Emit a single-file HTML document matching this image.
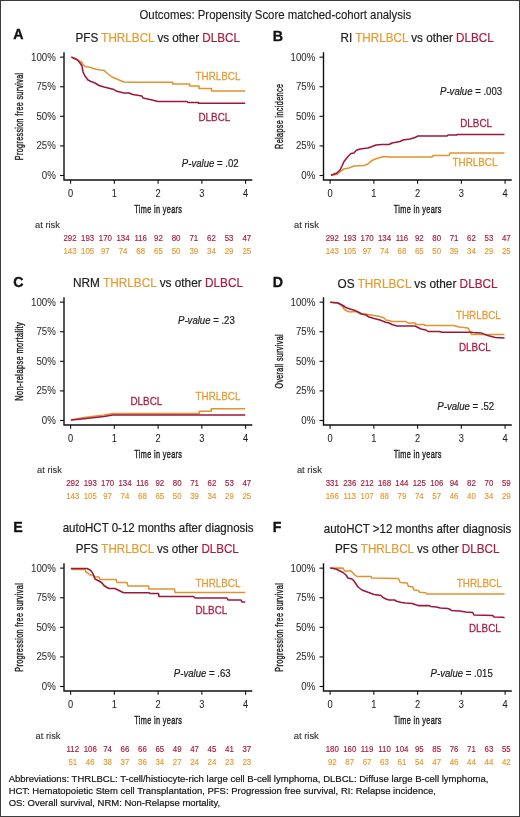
<!DOCTYPE html>
<html><head><meta charset="utf-8"><style>
html,body{margin:0;padding:0;background:#fff;width:520px;height:817px;overflow:hidden}
svg{display:block;font-family:"Liberation Sans", sans-serif;will-change:transform}
</style></head><body>
<svg width="520" height="817" viewBox="0 0 520 817">
<rect x="0.5" y="0.5" width="519" height="816" fill="#fff" stroke="#3c3c3c" stroke-width="1"/>
<text x="139.50" y="18.70" font-size="12.1" fill="#1e1e1e" stroke="#1e1e1e" stroke-width="0.15" textLength="271.75" lengthAdjust="spacingAndGlyphs">Outcomes: Propensity Score matched-cohort analysis</text>
<text transform="translate(13.30 39.30) scale(0.95 1)" font-size="15.0" fill="#111" font-weight="bold" stroke="#111" stroke-width="0.35">A</text>
<text x="75.50" y="41.80" font-size="12.2" fill="#1e1e1e" textLength="164.5" lengthAdjust="spacingAndGlyphs"><tspan fill="#1e1e1e" stroke="#1e1e1e" stroke-width="0.2">PFS </tspan><tspan fill="#E49C32" stroke="#E49C32" stroke-width="0.2">THRLBCL</tspan><tspan fill="#1e1e1e" stroke="#1e1e1e" stroke-width="0.2"> vs other </tspan><tspan fill="#A81C40" stroke="#A81C40" stroke-width="0.2">DLBCL</tspan></text>
<path d="M64.0 52.25 V180.0 H252.3" fill="none" stroke="#111111" stroke-width="1.4"/>
<path d="M60 57.15 H64.0" stroke="#111111" stroke-width="1.1"/>
<text transform="translate(55.80 60.65) scale(0.95 1)" font-size="10.2" fill="#2e2e2e" text-anchor="end" stroke="#2e2e2e" stroke-width="0.06">100%</text>
<path d="M60 86.74 H64.0" stroke="#111111" stroke-width="1.1"/>
<text transform="translate(55.80 90.24) scale(0.95 1)" font-size="10.2" fill="#2e2e2e" text-anchor="end" stroke="#2e2e2e" stroke-width="0.06">75%</text>
<path d="M60 116.32 H64.0" stroke="#111111" stroke-width="1.1"/>
<text transform="translate(55.80 119.82) scale(0.95 1)" font-size="10.2" fill="#2e2e2e" text-anchor="end" stroke="#2e2e2e" stroke-width="0.06">50%</text>
<path d="M60 145.91 H64.0" stroke="#111111" stroke-width="1.1"/>
<text transform="translate(55.80 149.41) scale(0.95 1)" font-size="10.2" fill="#2e2e2e" text-anchor="end" stroke="#2e2e2e" stroke-width="0.06">25%</text>
<path d="M60 175.50 H64.0" stroke="#111111" stroke-width="1.1"/>
<text transform="translate(55.80 179.00) scale(0.95 1)" font-size="10.2" fill="#2e2e2e" text-anchor="end" stroke="#2e2e2e" stroke-width="0.06">0%</text>
<path d="M70.60 180.0 V183.75" stroke="#111111" stroke-width="1.1"/>
<text transform="translate(70.60 196.50) scale(0.93 1)" font-size="10.0" fill="#222" text-anchor="middle" stroke="#222" stroke-width="0.06">0</text>
<path d="M114.35 180.0 V183.75" stroke="#111111" stroke-width="1.1"/>
<text transform="translate(114.35 196.50) scale(0.93 1)" font-size="10.0" fill="#222" text-anchor="middle" stroke="#222" stroke-width="0.06">1</text>
<path d="M158.10 180.0 V183.75" stroke="#111111" stroke-width="1.1"/>
<text transform="translate(158.10 196.50) scale(0.93 1)" font-size="10.0" fill="#222" text-anchor="middle" stroke="#222" stroke-width="0.06">2</text>
<path d="M201.85 180.0 V183.75" stroke="#111111" stroke-width="1.1"/>
<text transform="translate(201.85 196.50) scale(0.93 1)" font-size="10.0" fill="#222" text-anchor="middle" stroke="#222" stroke-width="0.06">3</text>
<path d="M245.60 180.0 V183.75" stroke="#111111" stroke-width="1.1"/>
<text transform="translate(245.60 196.50) scale(0.93 1)" font-size="10.0" fill="#222" text-anchor="middle" stroke="#222" stroke-width="0.06">4</text>
<text letter-spacing="0.55" transform="translate(158.30 212.50) scale(0.635 1)" font-size="11.5" fill="#1e1e1e" text-anchor="middle" stroke="#1e1e1e" stroke-width="0.42">Time in years</text>
<text transform="translate(23.20 116.30) rotate(-90)" font-size="11.3" fill="#1e1e1e" stroke="#1e1e1e" stroke-width="0.4" letter-spacing="0.6" text-anchor="middle" textLength="87.7" lengthAdjust="spacingAndGlyphs">Progression free survival</text>
<text transform="translate(35.00 227.80) scale(0.95 1)" font-size="9.85" fill="#333" stroke="#333" stroke-width="0.12">at risk</text>
<text transform="translate(70.00 241.20) scale(0.95 1)" font-size="8.3" fill="#A81C40" text-anchor="middle" stroke="#A81C40" stroke-width="0.16">292</text>
<text transform="translate(70.00 253.70) scale(0.95 1)" font-size="8.3" fill="#E49C32" text-anchor="middle" stroke="#E49C32" stroke-width="0.16">143</text>
<text transform="translate(87.68 241.20) scale(0.95 1)" font-size="8.3" fill="#A81C40" text-anchor="middle" stroke="#A81C40" stroke-width="0.16">193</text>
<text transform="translate(87.68 253.70) scale(0.95 1)" font-size="8.3" fill="#E49C32" text-anchor="middle" stroke="#E49C32" stroke-width="0.16">105</text>
<text transform="translate(105.36 241.20) scale(0.95 1)" font-size="8.3" fill="#A81C40" text-anchor="middle" stroke="#A81C40" stroke-width="0.16">170</text>
<text transform="translate(105.36 253.70) scale(0.95 1)" font-size="8.3" fill="#E49C32" text-anchor="middle" stroke="#E49C32" stroke-width="0.16">97</text>
<text transform="translate(123.04 241.20) scale(0.95 1)" font-size="8.3" fill="#A81C40" text-anchor="middle" stroke="#A81C40" stroke-width="0.16">134</text>
<text transform="translate(123.04 253.70) scale(0.95 1)" font-size="8.3" fill="#E49C32" text-anchor="middle" stroke="#E49C32" stroke-width="0.16">74</text>
<text transform="translate(140.72 241.20) scale(0.95 1)" font-size="8.3" fill="#A81C40" text-anchor="middle" stroke="#A81C40" stroke-width="0.16">116</text>
<text transform="translate(140.72 253.70) scale(0.95 1)" font-size="8.3" fill="#E49C32" text-anchor="middle" stroke="#E49C32" stroke-width="0.16">68</text>
<text transform="translate(158.40 241.20) scale(0.95 1)" font-size="8.3" fill="#A81C40" text-anchor="middle" stroke="#A81C40" stroke-width="0.16">92</text>
<text transform="translate(158.40 253.70) scale(0.95 1)" font-size="8.3" fill="#E49C32" text-anchor="middle" stroke="#E49C32" stroke-width="0.16">65</text>
<text transform="translate(176.08 241.20) scale(0.95 1)" font-size="8.3" fill="#A81C40" text-anchor="middle" stroke="#A81C40" stroke-width="0.16">80</text>
<text transform="translate(176.08 253.70) scale(0.95 1)" font-size="8.3" fill="#E49C32" text-anchor="middle" stroke="#E49C32" stroke-width="0.16">50</text>
<text transform="translate(193.76 241.20) scale(0.95 1)" font-size="8.3" fill="#A81C40" text-anchor="middle" stroke="#A81C40" stroke-width="0.16">71</text>
<text transform="translate(193.76 253.70) scale(0.95 1)" font-size="8.3" fill="#E49C32" text-anchor="middle" stroke="#E49C32" stroke-width="0.16">39</text>
<text transform="translate(211.44 241.20) scale(0.95 1)" font-size="8.3" fill="#A81C40" text-anchor="middle" stroke="#A81C40" stroke-width="0.16">62</text>
<text transform="translate(211.44 253.70) scale(0.95 1)" font-size="8.3" fill="#E49C32" text-anchor="middle" stroke="#E49C32" stroke-width="0.16">34</text>
<text transform="translate(229.12 241.20) scale(0.95 1)" font-size="8.3" fill="#A81C40" text-anchor="middle" stroke="#A81C40" stroke-width="0.16">53</text>
<text transform="translate(229.12 253.70) scale(0.95 1)" font-size="8.3" fill="#E49C32" text-anchor="middle" stroke="#E49C32" stroke-width="0.16">29</text>
<text transform="translate(246.80 241.20) scale(0.95 1)" font-size="8.3" fill="#A81C40" text-anchor="middle" stroke="#A81C40" stroke-width="0.16">47</text>
<text transform="translate(246.80 253.70) scale(0.95 1)" font-size="8.3" fill="#E49C32" text-anchor="middle" stroke="#E49C32" stroke-width="0.16">25</text>
<path d="M71.30 57.10 L76.00 58.50 L79.00 61.00 L81.50 62.00 L83.00 64.50 L85.00 66.50 L91.00 67.50 L93.00 68.50 L100.00 70.00 L104.00 70.30 L108.00 74.00 L112.00 77.00 L118.00 79.50 L124.00 82.00 L129.00 82.25 L172.75 82.25 L172.75 83.90 L189.60 83.90 L189.60 86.00 L199.00 86.00 L199.00 88.50 L211.50 88.50 L211.50 91.00 L245.25 91.00" fill="none" stroke="#E0942E" stroke-width="1.55" stroke-linejoin="round"/>
<path d="M71.30 57.10 L77.50 60.00 L80.00 63.00 L82.00 66.00 L83.00 72.00 L85.00 76.00 L88.00 80.00 L91.00 81.50 L95.00 83.00 L99.00 85.50 L104.00 87.00 L114.00 89.50 L116.00 91.00 L124.00 93.00 L129.00 93.00 L132.75 94.50 L142.00 96.00 L143.00 98.00 L150.00 99.50 L158.00 101.50 L187.00 101.50 L188.00 102.50 L198.40 102.50 L198.40 103.25 L245.25 103.25" fill="none" stroke="#9C173C" stroke-width="1.55" stroke-linejoin="round"/>
<text transform="translate(195.50 79.50) scale(0.95 1)" font-size="10.4" fill="#E49C32" stroke="#E49C32" stroke-width="0.25">THRLBCL</text>
<text transform="translate(198.50 121.20) scale(0.95 1)" font-size="10.4" fill="#A81C40" stroke="#A81C40" stroke-width="0.25">DLBCL</text>
<text transform="translate(181.80 166.50) scale(0.95 1)" font-size="10.1" fill="#1e1e1e" stroke="#1e1e1e" stroke-width="0.2"><tspan font-style="italic">P-value</tspan> = .02</text>
<text transform="translate(272.80 41.00) scale(0.95 1)" font-size="15.0" fill="#111" font-weight="bold" stroke="#111" stroke-width="0.35">B</text>
<text x="340.50" y="42.00" font-size="12.2" fill="#1e1e1e" textLength="153.25" lengthAdjust="spacingAndGlyphs"><tspan fill="#1e1e1e" stroke="#1e1e1e" stroke-width="0.2">RI </tspan><tspan fill="#E49C32" stroke="#E49C32" stroke-width="0.2">THRLBCL</tspan><tspan fill="#1e1e1e" stroke="#1e1e1e" stroke-width="0.2"> vs other </tspan><tspan fill="#A81C40" stroke="#A81C40" stroke-width="0.2">DLBCL</tspan></text>
<path d="M323.5 52.25 V180.0 H511.8" fill="none" stroke="#111111" stroke-width="1.4"/>
<path d="M319.5 57.15 H323.5" stroke="#111111" stroke-width="1.1"/>
<text transform="translate(315.30 60.65) scale(0.95 1)" font-size="10.2" fill="#2e2e2e" text-anchor="end" stroke="#2e2e2e" stroke-width="0.06">100%</text>
<path d="M319.5 86.74 H323.5" stroke="#111111" stroke-width="1.1"/>
<text transform="translate(315.30 90.24) scale(0.95 1)" font-size="10.2" fill="#2e2e2e" text-anchor="end" stroke="#2e2e2e" stroke-width="0.06">75%</text>
<path d="M319.5 116.32 H323.5" stroke="#111111" stroke-width="1.1"/>
<text transform="translate(315.30 119.82) scale(0.95 1)" font-size="10.2" fill="#2e2e2e" text-anchor="end" stroke="#2e2e2e" stroke-width="0.06">50%</text>
<path d="M319.5 145.91 H323.5" stroke="#111111" stroke-width="1.1"/>
<text transform="translate(315.30 149.41) scale(0.95 1)" font-size="10.2" fill="#2e2e2e" text-anchor="end" stroke="#2e2e2e" stroke-width="0.06">25%</text>
<path d="M319.5 175.50 H323.5" stroke="#111111" stroke-width="1.1"/>
<text transform="translate(315.30 179.00) scale(0.95 1)" font-size="10.2" fill="#2e2e2e" text-anchor="end" stroke="#2e2e2e" stroke-width="0.06">0%</text>
<path d="M330.10 180.0 V183.75" stroke="#111111" stroke-width="1.1"/>
<text transform="translate(330.10 196.50) scale(0.93 1)" font-size="10.0" fill="#222" text-anchor="middle" stroke="#222" stroke-width="0.06">0</text>
<path d="M373.85 180.0 V183.75" stroke="#111111" stroke-width="1.1"/>
<text transform="translate(373.85 196.50) scale(0.93 1)" font-size="10.0" fill="#222" text-anchor="middle" stroke="#222" stroke-width="0.06">1</text>
<path d="M417.60 180.0 V183.75" stroke="#111111" stroke-width="1.1"/>
<text transform="translate(417.60 196.50) scale(0.93 1)" font-size="10.0" fill="#222" text-anchor="middle" stroke="#222" stroke-width="0.06">2</text>
<path d="M461.35 180.0 V183.75" stroke="#111111" stroke-width="1.1"/>
<text transform="translate(461.35 196.50) scale(0.93 1)" font-size="10.0" fill="#222" text-anchor="middle" stroke="#222" stroke-width="0.06">3</text>
<path d="M505.10 180.0 V183.75" stroke="#111111" stroke-width="1.1"/>
<text transform="translate(505.10 196.50) scale(0.93 1)" font-size="10.0" fill="#222" text-anchor="middle" stroke="#222" stroke-width="0.06">4</text>
<text letter-spacing="0.55" transform="translate(417.80 212.50) scale(0.635 1)" font-size="11.5" fill="#1e1e1e" text-anchor="middle" stroke="#1e1e1e" stroke-width="0.42">Time in years</text>
<text transform="translate(282.70 116.30) rotate(-90)" font-size="11.3" fill="#1e1e1e" stroke="#1e1e1e" stroke-width="0.4" letter-spacing="0.6" text-anchor="middle" textLength="65.2" lengthAdjust="spacingAndGlyphs">Relapse incidence</text>
<text transform="translate(294.00 227.80) scale(0.95 1)" font-size="9.85" fill="#333" stroke="#333" stroke-width="0.12">at risk</text>
<text transform="translate(332.30 241.20) scale(0.95 1)" font-size="8.3" fill="#A81C40" text-anchor="middle" stroke="#A81C40" stroke-width="0.16">292</text>
<text transform="translate(332.30 253.70) scale(0.95 1)" font-size="8.3" fill="#E49C32" text-anchor="middle" stroke="#E49C32" stroke-width="0.16">143</text>
<text transform="translate(349.70 241.20) scale(0.95 1)" font-size="8.3" fill="#A81C40" text-anchor="middle" stroke="#A81C40" stroke-width="0.16">193</text>
<text transform="translate(349.70 253.70) scale(0.95 1)" font-size="8.3" fill="#E49C32" text-anchor="middle" stroke="#E49C32" stroke-width="0.16">105</text>
<text transform="translate(367.10 241.20) scale(0.95 1)" font-size="8.3" fill="#A81C40" text-anchor="middle" stroke="#A81C40" stroke-width="0.16">170</text>
<text transform="translate(367.10 253.70) scale(0.95 1)" font-size="8.3" fill="#E49C32" text-anchor="middle" stroke="#E49C32" stroke-width="0.16">97</text>
<text transform="translate(384.50 241.20) scale(0.95 1)" font-size="8.3" fill="#A81C40" text-anchor="middle" stroke="#A81C40" stroke-width="0.16">134</text>
<text transform="translate(384.50 253.70) scale(0.95 1)" font-size="8.3" fill="#E49C32" text-anchor="middle" stroke="#E49C32" stroke-width="0.16">74</text>
<text transform="translate(401.90 241.20) scale(0.95 1)" font-size="8.3" fill="#A81C40" text-anchor="middle" stroke="#A81C40" stroke-width="0.16">116</text>
<text transform="translate(401.90 253.70) scale(0.95 1)" font-size="8.3" fill="#E49C32" text-anchor="middle" stroke="#E49C32" stroke-width="0.16">68</text>
<text transform="translate(419.30 241.20) scale(0.95 1)" font-size="8.3" fill="#A81C40" text-anchor="middle" stroke="#A81C40" stroke-width="0.16">92</text>
<text transform="translate(419.30 253.70) scale(0.95 1)" font-size="8.3" fill="#E49C32" text-anchor="middle" stroke="#E49C32" stroke-width="0.16">65</text>
<text transform="translate(436.70 241.20) scale(0.95 1)" font-size="8.3" fill="#A81C40" text-anchor="middle" stroke="#A81C40" stroke-width="0.16">80</text>
<text transform="translate(436.70 253.70) scale(0.95 1)" font-size="8.3" fill="#E49C32" text-anchor="middle" stroke="#E49C32" stroke-width="0.16">50</text>
<text transform="translate(454.10 241.20) scale(0.95 1)" font-size="8.3" fill="#A81C40" text-anchor="middle" stroke="#A81C40" stroke-width="0.16">71</text>
<text transform="translate(454.10 253.70) scale(0.95 1)" font-size="8.3" fill="#E49C32" text-anchor="middle" stroke="#E49C32" stroke-width="0.16">39</text>
<text transform="translate(471.50 241.20) scale(0.95 1)" font-size="8.3" fill="#A81C40" text-anchor="middle" stroke="#A81C40" stroke-width="0.16">62</text>
<text transform="translate(471.50 253.70) scale(0.95 1)" font-size="8.3" fill="#E49C32" text-anchor="middle" stroke="#E49C32" stroke-width="0.16">34</text>
<text transform="translate(488.90 241.20) scale(0.95 1)" font-size="8.3" fill="#A81C40" text-anchor="middle" stroke="#A81C40" stroke-width="0.16">53</text>
<text transform="translate(488.90 253.70) scale(0.95 1)" font-size="8.3" fill="#E49C32" text-anchor="middle" stroke="#E49C32" stroke-width="0.16">29</text>
<text transform="translate(506.30 241.20) scale(0.95 1)" font-size="8.3" fill="#A81C40" text-anchor="middle" stroke="#A81C40" stroke-width="0.16">47</text>
<text transform="translate(506.30 253.70) scale(0.95 1)" font-size="8.3" fill="#E49C32" text-anchor="middle" stroke="#E49C32" stroke-width="0.16">25</text>
<path d="M331.00 175.30 L337.00 174.50 L341.00 171.00 L344.00 169.00 L349.00 168.00 L354.00 166.00 L364.00 165.50 L368.00 164.00 L370.00 162.00 L373.00 160.00 L378.00 158.00 L384.00 156.50 L389.00 157.00 L432.00 157.00 L433.00 155.50 L449.00 155.50 L450.00 153.00 L504.50 153.00" fill="none" stroke="#E0942E" stroke-width="1.55" stroke-linejoin="round"/>
<path d="M331.00 175.30 L337.00 173.00 L340.00 170.00 L342.00 166.00 L344.00 161.50 L348.00 156.50 L351.00 153.50 L354.00 153.00 L356.00 150.50 L360.00 149.00 L368.00 148.00 L372.00 146.50 L376.00 145.00 L382.00 144.50 L389.00 144.50 L392.00 143.00 L400.00 141.50 L403.00 140.00 L410.00 139.00 L415.00 137.50 L418.00 136.00 L447.00 136.00 L448.00 135.00 L457.00 135.00 L457.00 134.50 L504.50 134.50" fill="none" stroke="#9C173C" stroke-width="1.55" stroke-linejoin="round"/>
<text transform="translate(452.50 166.00) scale(0.95 1)" font-size="10.4" fill="#E49C32" stroke="#E49C32" stroke-width="0.25">THRLBCL</text>
<text transform="translate(460.25 126.90) scale(0.95 1)" font-size="10.4" fill="#A81C40" stroke="#A81C40" stroke-width="0.25">DLBCL</text>
<text transform="translate(440.00 94.50) scale(0.95 1)" font-size="10.1" fill="#1e1e1e" stroke="#1e1e1e" stroke-width="0.2"><tspan font-style="italic">P-value</tspan> = .003</text>
<text transform="translate(13.30 286.50) scale(0.95 1)" font-size="15.0" fill="#111" font-weight="bold" stroke="#111" stroke-width="0.35">C</text>
<text x="73.00" y="287.00" font-size="12.2" fill="#1e1e1e" textLength="170" lengthAdjust="spacingAndGlyphs"><tspan fill="#1e1e1e" stroke="#1e1e1e" stroke-width="0.2">NRM </tspan><tspan fill="#E49C32" stroke="#E49C32" stroke-width="0.2">THRLBCL</tspan><tspan fill="#1e1e1e" stroke="#1e1e1e" stroke-width="0.2"> vs other </tspan><tspan fill="#A81C40" stroke="#A81C40" stroke-width="0.2">DLBCL</tspan></text>
<path d="M64.0 297.25 V425.0 H252.3" fill="none" stroke="#111111" stroke-width="1.4"/>
<path d="M60 302.15 H64.0" stroke="#111111" stroke-width="1.1"/>
<text transform="translate(55.80 305.65) scale(0.95 1)" font-size="10.2" fill="#2e2e2e" text-anchor="end" stroke="#2e2e2e" stroke-width="0.06">100%</text>
<path d="M60 331.74 H64.0" stroke="#111111" stroke-width="1.1"/>
<text transform="translate(55.80 335.24) scale(0.95 1)" font-size="10.2" fill="#2e2e2e" text-anchor="end" stroke="#2e2e2e" stroke-width="0.06">75%</text>
<path d="M60 361.32 H64.0" stroke="#111111" stroke-width="1.1"/>
<text transform="translate(55.80 364.82) scale(0.95 1)" font-size="10.2" fill="#2e2e2e" text-anchor="end" stroke="#2e2e2e" stroke-width="0.06">50%</text>
<path d="M60 390.91 H64.0" stroke="#111111" stroke-width="1.1"/>
<text transform="translate(55.80 394.41) scale(0.95 1)" font-size="10.2" fill="#2e2e2e" text-anchor="end" stroke="#2e2e2e" stroke-width="0.06">25%</text>
<path d="M60 420.50 H64.0" stroke="#111111" stroke-width="1.1"/>
<text transform="translate(55.80 424.00) scale(0.95 1)" font-size="10.2" fill="#2e2e2e" text-anchor="end" stroke="#2e2e2e" stroke-width="0.06">0%</text>
<path d="M70.60 425.0 V428.75" stroke="#111111" stroke-width="1.1"/>
<text transform="translate(70.60 441.50) scale(0.93 1)" font-size="10.0" fill="#222" text-anchor="middle" stroke="#222" stroke-width="0.06">0</text>
<path d="M114.35 425.0 V428.75" stroke="#111111" stroke-width="1.1"/>
<text transform="translate(114.35 441.50) scale(0.93 1)" font-size="10.0" fill="#222" text-anchor="middle" stroke="#222" stroke-width="0.06">1</text>
<path d="M158.10 425.0 V428.75" stroke="#111111" stroke-width="1.1"/>
<text transform="translate(158.10 441.50) scale(0.93 1)" font-size="10.0" fill="#222" text-anchor="middle" stroke="#222" stroke-width="0.06">2</text>
<path d="M201.85 425.0 V428.75" stroke="#111111" stroke-width="1.1"/>
<text transform="translate(201.85 441.50) scale(0.93 1)" font-size="10.0" fill="#222" text-anchor="middle" stroke="#222" stroke-width="0.06">3</text>
<path d="M245.60 425.0 V428.75" stroke="#111111" stroke-width="1.1"/>
<text transform="translate(245.60 441.50) scale(0.93 1)" font-size="10.0" fill="#222" text-anchor="middle" stroke="#222" stroke-width="0.06">4</text>
<text letter-spacing="0.55" transform="translate(158.30 457.50) scale(0.635 1)" font-size="11.5" fill="#1e1e1e" text-anchor="middle" stroke="#1e1e1e" stroke-width="0.42">Time in years</text>
<text transform="translate(23.20 361.30) rotate(-90)" font-size="11.3" fill="#1e1e1e" stroke="#1e1e1e" stroke-width="0.4" letter-spacing="0.6" text-anchor="middle" textLength="78.9" lengthAdjust="spacingAndGlyphs">Non-relapse mortality</text>
<text transform="translate(37.00 472.80) scale(0.95 1)" font-size="9.85" fill="#333" stroke="#333" stroke-width="0.12">at risk</text>
<text transform="translate(72.80 486.20) scale(0.95 1)" font-size="8.3" fill="#A81C40" text-anchor="middle" stroke="#A81C40" stroke-width="0.16">292</text>
<text transform="translate(72.80 498.70) scale(0.95 1)" font-size="8.3" fill="#E49C32" text-anchor="middle" stroke="#E49C32" stroke-width="0.16">143</text>
<text transform="translate(90.20 486.20) scale(0.95 1)" font-size="8.3" fill="#A81C40" text-anchor="middle" stroke="#A81C40" stroke-width="0.16">193</text>
<text transform="translate(90.20 498.70) scale(0.95 1)" font-size="8.3" fill="#E49C32" text-anchor="middle" stroke="#E49C32" stroke-width="0.16">105</text>
<text transform="translate(107.60 486.20) scale(0.95 1)" font-size="8.3" fill="#A81C40" text-anchor="middle" stroke="#A81C40" stroke-width="0.16">170</text>
<text transform="translate(107.60 498.70) scale(0.95 1)" font-size="8.3" fill="#E49C32" text-anchor="middle" stroke="#E49C32" stroke-width="0.16">97</text>
<text transform="translate(125.00 486.20) scale(0.95 1)" font-size="8.3" fill="#A81C40" text-anchor="middle" stroke="#A81C40" stroke-width="0.16">134</text>
<text transform="translate(125.00 498.70) scale(0.95 1)" font-size="8.3" fill="#E49C32" text-anchor="middle" stroke="#E49C32" stroke-width="0.16">74</text>
<text transform="translate(142.40 486.20) scale(0.95 1)" font-size="8.3" fill="#A81C40" text-anchor="middle" stroke="#A81C40" stroke-width="0.16">116</text>
<text transform="translate(142.40 498.70) scale(0.95 1)" font-size="8.3" fill="#E49C32" text-anchor="middle" stroke="#E49C32" stroke-width="0.16">68</text>
<text transform="translate(159.80 486.20) scale(0.95 1)" font-size="8.3" fill="#A81C40" text-anchor="middle" stroke="#A81C40" stroke-width="0.16">92</text>
<text transform="translate(159.80 498.70) scale(0.95 1)" font-size="8.3" fill="#E49C32" text-anchor="middle" stroke="#E49C32" stroke-width="0.16">65</text>
<text transform="translate(177.20 486.20) scale(0.95 1)" font-size="8.3" fill="#A81C40" text-anchor="middle" stroke="#A81C40" stroke-width="0.16">80</text>
<text transform="translate(177.20 498.70) scale(0.95 1)" font-size="8.3" fill="#E49C32" text-anchor="middle" stroke="#E49C32" stroke-width="0.16">50</text>
<text transform="translate(194.60 486.20) scale(0.95 1)" font-size="8.3" fill="#A81C40" text-anchor="middle" stroke="#A81C40" stroke-width="0.16">71</text>
<text transform="translate(194.60 498.70) scale(0.95 1)" font-size="8.3" fill="#E49C32" text-anchor="middle" stroke="#E49C32" stroke-width="0.16">39</text>
<text transform="translate(212.00 486.20) scale(0.95 1)" font-size="8.3" fill="#A81C40" text-anchor="middle" stroke="#A81C40" stroke-width="0.16">62</text>
<text transform="translate(212.00 498.70) scale(0.95 1)" font-size="8.3" fill="#E49C32" text-anchor="middle" stroke="#E49C32" stroke-width="0.16">34</text>
<text transform="translate(229.40 486.20) scale(0.95 1)" font-size="8.3" fill="#A81C40" text-anchor="middle" stroke="#A81C40" stroke-width="0.16">53</text>
<text transform="translate(229.40 498.70) scale(0.95 1)" font-size="8.3" fill="#E49C32" text-anchor="middle" stroke="#E49C32" stroke-width="0.16">29</text>
<text transform="translate(246.80 486.20) scale(0.95 1)" font-size="8.3" fill="#A81C40" text-anchor="middle" stroke="#A81C40" stroke-width="0.16">47</text>
<text transform="translate(246.80 498.70) scale(0.95 1)" font-size="8.3" fill="#E49C32" text-anchor="middle" stroke="#E49C32" stroke-width="0.16">25</text>
<path d="M70.90 420.00 L84.00 417.50 L104.00 415.00 L112.75 413.60 L199.25 413.60 L199.25 411.25 L211.25 411.25 L211.25 408.75 L245.25 408.75" fill="none" stroke="#E0942E" stroke-width="1.55" stroke-linejoin="round"/>
<path d="M70.90 420.00 L84.00 418.75 L104.00 416.50 L112.75 415.00 L245.25 415.00" fill="none" stroke="#9C173C" stroke-width="1.55" stroke-linejoin="round"/>
<text transform="translate(195.50 399.75) scale(0.95 1)" font-size="10.4" fill="#E49C32" stroke="#E49C32" stroke-width="0.25">THRLBCL</text>
<text transform="translate(130.50 405.25) scale(0.95 1)" font-size="10.4" fill="#A81C40" stroke="#A81C40" stroke-width="0.25">DLBCL</text>
<text transform="translate(178.00 323.80) scale(0.95 1)" font-size="10.1" fill="#1e1e1e" stroke="#1e1e1e" stroke-width="0.2"><tspan font-style="italic">P-value</tspan> = .23</text>
<text transform="translate(272.80 286.50) scale(0.95 1)" font-size="15.0" fill="#111" font-weight="bold" stroke="#111" stroke-width="0.35">D</text>
<text x="337.50" y="287.50" font-size="12.2" fill="#1e1e1e" textLength="160.2" lengthAdjust="spacingAndGlyphs"><tspan fill="#1e1e1e" stroke="#1e1e1e" stroke-width="0.2">OS </tspan><tspan fill="#E49C32" stroke="#E49C32" stroke-width="0.2">THRLBCL</tspan><tspan fill="#1e1e1e" stroke="#1e1e1e" stroke-width="0.2"> vs other </tspan><tspan fill="#A81C40" stroke="#A81C40" stroke-width="0.2">DLBCL</tspan></text>
<path d="M323.5 297.25 V425.0 H511.8" fill="none" stroke="#111111" stroke-width="1.4"/>
<path d="M319.5 302.15 H323.5" stroke="#111111" stroke-width="1.1"/>
<text transform="translate(315.30 305.65) scale(0.95 1)" font-size="10.2" fill="#2e2e2e" text-anchor="end" stroke="#2e2e2e" stroke-width="0.06">100%</text>
<path d="M319.5 331.74 H323.5" stroke="#111111" stroke-width="1.1"/>
<text transform="translate(315.30 335.24) scale(0.95 1)" font-size="10.2" fill="#2e2e2e" text-anchor="end" stroke="#2e2e2e" stroke-width="0.06">75%</text>
<path d="M319.5 361.32 H323.5" stroke="#111111" stroke-width="1.1"/>
<text transform="translate(315.30 364.82) scale(0.95 1)" font-size="10.2" fill="#2e2e2e" text-anchor="end" stroke="#2e2e2e" stroke-width="0.06">50%</text>
<path d="M319.5 390.91 H323.5" stroke="#111111" stroke-width="1.1"/>
<text transform="translate(315.30 394.41) scale(0.95 1)" font-size="10.2" fill="#2e2e2e" text-anchor="end" stroke="#2e2e2e" stroke-width="0.06">25%</text>
<path d="M319.5 420.50 H323.5" stroke="#111111" stroke-width="1.1"/>
<text transform="translate(315.30 424.00) scale(0.95 1)" font-size="10.2" fill="#2e2e2e" text-anchor="end" stroke="#2e2e2e" stroke-width="0.06">0%</text>
<path d="M330.10 425.0 V428.75" stroke="#111111" stroke-width="1.1"/>
<text transform="translate(330.10 441.50) scale(0.93 1)" font-size="10.0" fill="#222" text-anchor="middle" stroke="#222" stroke-width="0.06">0</text>
<path d="M373.85 425.0 V428.75" stroke="#111111" stroke-width="1.1"/>
<text transform="translate(373.85 441.50) scale(0.93 1)" font-size="10.0" fill="#222" text-anchor="middle" stroke="#222" stroke-width="0.06">1</text>
<path d="M417.60 425.0 V428.75" stroke="#111111" stroke-width="1.1"/>
<text transform="translate(417.60 441.50) scale(0.93 1)" font-size="10.0" fill="#222" text-anchor="middle" stroke="#222" stroke-width="0.06">2</text>
<path d="M461.35 425.0 V428.75" stroke="#111111" stroke-width="1.1"/>
<text transform="translate(461.35 441.50) scale(0.93 1)" font-size="10.0" fill="#222" text-anchor="middle" stroke="#222" stroke-width="0.06">3</text>
<path d="M505.10 425.0 V428.75" stroke="#111111" stroke-width="1.1"/>
<text transform="translate(505.10 441.50) scale(0.93 1)" font-size="10.0" fill="#222" text-anchor="middle" stroke="#222" stroke-width="0.06">4</text>
<text letter-spacing="0.55" transform="translate(417.80 457.50) scale(0.635 1)" font-size="11.5" fill="#1e1e1e" text-anchor="middle" stroke="#1e1e1e" stroke-width="0.42">Time in years</text>
<text transform="translate(282.70 361.30) rotate(-90)" font-size="11.3" fill="#1e1e1e" stroke="#1e1e1e" stroke-width="0.4" letter-spacing="0.6" text-anchor="middle" textLength="54.4" lengthAdjust="spacingAndGlyphs">Overall survival</text>
<text transform="translate(296.90 472.80) scale(0.95 1)" font-size="9.85" fill="#333" stroke="#333" stroke-width="0.12">at risk</text>
<text transform="translate(332.30 486.20) scale(0.95 1)" font-size="8.3" fill="#A81C40" text-anchor="middle" stroke="#A81C40" stroke-width="0.16">331</text>
<text transform="translate(332.30 498.70) scale(0.95 1)" font-size="8.3" fill="#E49C32" text-anchor="middle" stroke="#E49C32" stroke-width="0.16">166</text>
<text transform="translate(349.70 486.20) scale(0.95 1)" font-size="8.3" fill="#A81C40" text-anchor="middle" stroke="#A81C40" stroke-width="0.16">236</text>
<text transform="translate(349.70 498.70) scale(0.95 1)" font-size="8.3" fill="#E49C32" text-anchor="middle" stroke="#E49C32" stroke-width="0.16">113</text>
<text transform="translate(367.10 486.20) scale(0.95 1)" font-size="8.3" fill="#A81C40" text-anchor="middle" stroke="#A81C40" stroke-width="0.16">212</text>
<text transform="translate(367.10 498.70) scale(0.95 1)" font-size="8.3" fill="#E49C32" text-anchor="middle" stroke="#E49C32" stroke-width="0.16">107</text>
<text transform="translate(384.50 486.20) scale(0.95 1)" font-size="8.3" fill="#A81C40" text-anchor="middle" stroke="#A81C40" stroke-width="0.16">168</text>
<text transform="translate(384.50 498.70) scale(0.95 1)" font-size="8.3" fill="#E49C32" text-anchor="middle" stroke="#E49C32" stroke-width="0.16">88</text>
<text transform="translate(401.90 486.20) scale(0.95 1)" font-size="8.3" fill="#A81C40" text-anchor="middle" stroke="#A81C40" stroke-width="0.16">144</text>
<text transform="translate(401.90 498.70) scale(0.95 1)" font-size="8.3" fill="#E49C32" text-anchor="middle" stroke="#E49C32" stroke-width="0.16">79</text>
<text transform="translate(419.30 486.20) scale(0.95 1)" font-size="8.3" fill="#A81C40" text-anchor="middle" stroke="#A81C40" stroke-width="0.16">125</text>
<text transform="translate(419.30 498.70) scale(0.95 1)" font-size="8.3" fill="#E49C32" text-anchor="middle" stroke="#E49C32" stroke-width="0.16">74</text>
<text transform="translate(436.70 486.20) scale(0.95 1)" font-size="8.3" fill="#A81C40" text-anchor="middle" stroke="#A81C40" stroke-width="0.16">106</text>
<text transform="translate(436.70 498.70) scale(0.95 1)" font-size="8.3" fill="#E49C32" text-anchor="middle" stroke="#E49C32" stroke-width="0.16">57</text>
<text transform="translate(454.10 486.20) scale(0.95 1)" font-size="8.3" fill="#A81C40" text-anchor="middle" stroke="#A81C40" stroke-width="0.16">94</text>
<text transform="translate(454.10 498.70) scale(0.95 1)" font-size="8.3" fill="#E49C32" text-anchor="middle" stroke="#E49C32" stroke-width="0.16">46</text>
<text transform="translate(471.50 486.20) scale(0.95 1)" font-size="8.3" fill="#A81C40" text-anchor="middle" stroke="#A81C40" stroke-width="0.16">82</text>
<text transform="translate(471.50 498.70) scale(0.95 1)" font-size="8.3" fill="#E49C32" text-anchor="middle" stroke="#E49C32" stroke-width="0.16">40</text>
<text transform="translate(488.90 486.20) scale(0.95 1)" font-size="8.3" fill="#A81C40" text-anchor="middle" stroke="#A81C40" stroke-width="0.16">70</text>
<text transform="translate(488.90 498.70) scale(0.95 1)" font-size="8.3" fill="#E49C32" text-anchor="middle" stroke="#E49C32" stroke-width="0.16">34</text>
<text transform="translate(506.30 486.20) scale(0.95 1)" font-size="8.3" fill="#A81C40" text-anchor="middle" stroke="#A81C40" stroke-width="0.16">59</text>
<text transform="translate(506.30 498.70) scale(0.95 1)" font-size="8.3" fill="#E49C32" text-anchor="middle" stroke="#E49C32" stroke-width="0.16">29</text>
<path d="M330.25 302.25 L338.00 303.00 L342.00 306.00 L344.00 309.00 L347.00 311.00 L350.00 312.00 L354.00 311.50 L358.00 312.00 L360.00 314.00 L365.00 314.00 L374.00 315.50 L380.00 316.50 L384.00 318.00 L386.00 320.00 L389.00 320.50 L392.00 321.50 L406.00 321.50 L408.00 323.00 L415.00 323.00 L416.00 324.50 L424.00 324.50 L425.00 325.50 L454.00 325.50 L459.00 327.00 L468.00 328.00 L470.00 331.25 L471.50 334.40 L504.50 334.40" fill="none" stroke="#E0942E" stroke-width="1.55" stroke-linejoin="round"/>
<path d="M330.25 302.25 L338.00 303.00 L342.00 305.00 L346.00 307.50 L350.00 309.00 L355.00 310.50 L358.00 312.00 L362.00 314.00 L366.00 315.00 L369.00 317.00 L374.00 318.50 L380.00 320.00 L385.00 322.00 L389.00 323.00 L392.00 324.50 L397.00 326.00 L415.00 326.00 L418.00 327.50 L421.00 329.00 L426.00 330.00 L428.00 331.50 L439.00 331.50 L442.00 332.20 L471.50 332.20 L473.00 332.50 L481.50 333.10 L487.75 335.60 L495.25 337.50 L504.50 338.10" fill="none" stroke="#9C173C" stroke-width="1.55" stroke-linejoin="round"/>
<text transform="translate(455.90 318.75) scale(0.95 1)" font-size="10.4" fill="#E49C32" stroke="#E49C32" stroke-width="0.25">THRLBCL</text>
<text transform="translate(459.00 350.60) scale(0.95 1)" font-size="10.4" fill="#A81C40" stroke="#A81C40" stroke-width="0.25">DLBCL</text>
<text transform="translate(437.30 410.40) scale(0.95 1)" font-size="10.1" fill="#1e1e1e" stroke="#1e1e1e" stroke-width="0.2"><tspan font-style="italic">P-value</tspan> = .52</text>
<text transform="translate(13.30 531.90) scale(0.95 1)" font-size="15.0" fill="#111" font-weight="bold" stroke="#111" stroke-width="0.35">E</text>
<text x="62.70" y="532.40" font-size="12.2" fill="#1e1e1e" textLength="190.9" lengthAdjust="spacingAndGlyphs"><tspan fill="#1e1e1e" stroke="#1e1e1e" stroke-width="0.2">autoHCT 0-12 months after diagnosis</tspan></text>
<text x="75.80" y="552.70" font-size="12.2" fill="#1e1e1e" textLength="163" lengthAdjust="spacingAndGlyphs"><tspan fill="#1e1e1e" stroke="#1e1e1e" stroke-width="0.2">PFS </tspan><tspan fill="#E49C32" stroke="#E49C32" stroke-width="0.2">THRLBCL</tspan><tspan fill="#1e1e1e" stroke="#1e1e1e" stroke-width="0.2"> vs other </tspan><tspan fill="#A81C40" stroke="#A81C40" stroke-width="0.2">DLBCL</tspan></text>
<path d="M64.0 563.25 V691.0 H252.3" fill="none" stroke="#111111" stroke-width="1.4"/>
<path d="M60 568.15 H64.0" stroke="#111111" stroke-width="1.1"/>
<text transform="translate(55.80 571.65) scale(0.95 1)" font-size="10.2" fill="#2e2e2e" text-anchor="end" stroke="#2e2e2e" stroke-width="0.06">100%</text>
<path d="M60 597.74 H64.0" stroke="#111111" stroke-width="1.1"/>
<text transform="translate(55.80 601.24) scale(0.95 1)" font-size="10.2" fill="#2e2e2e" text-anchor="end" stroke="#2e2e2e" stroke-width="0.06">75%</text>
<path d="M60 627.33 H64.0" stroke="#111111" stroke-width="1.1"/>
<text transform="translate(55.80 630.83) scale(0.95 1)" font-size="10.2" fill="#2e2e2e" text-anchor="end" stroke="#2e2e2e" stroke-width="0.06">50%</text>
<path d="M60 656.91 H64.0" stroke="#111111" stroke-width="1.1"/>
<text transform="translate(55.80 660.41) scale(0.95 1)" font-size="10.2" fill="#2e2e2e" text-anchor="end" stroke="#2e2e2e" stroke-width="0.06">25%</text>
<path d="M60 686.50 H64.0" stroke="#111111" stroke-width="1.1"/>
<text transform="translate(55.80 690.00) scale(0.95 1)" font-size="10.2" fill="#2e2e2e" text-anchor="end" stroke="#2e2e2e" stroke-width="0.06">0%</text>
<path d="M70.60 691.0 V694.75" stroke="#111111" stroke-width="1.1"/>
<text transform="translate(70.60 707.50) scale(0.93 1)" font-size="10.0" fill="#222" text-anchor="middle" stroke="#222" stroke-width="0.06">0</text>
<path d="M114.35 691.0 V694.75" stroke="#111111" stroke-width="1.1"/>
<text transform="translate(114.35 707.50) scale(0.93 1)" font-size="10.0" fill="#222" text-anchor="middle" stroke="#222" stroke-width="0.06">1</text>
<path d="M158.10 691.0 V694.75" stroke="#111111" stroke-width="1.1"/>
<text transform="translate(158.10 707.50) scale(0.93 1)" font-size="10.0" fill="#222" text-anchor="middle" stroke="#222" stroke-width="0.06">2</text>
<path d="M201.85 691.0 V694.75" stroke="#111111" stroke-width="1.1"/>
<text transform="translate(201.85 707.50) scale(0.93 1)" font-size="10.0" fill="#222" text-anchor="middle" stroke="#222" stroke-width="0.06">3</text>
<path d="M245.60 691.0 V694.75" stroke="#111111" stroke-width="1.1"/>
<text transform="translate(245.60 707.50) scale(0.93 1)" font-size="10.0" fill="#222" text-anchor="middle" stroke="#222" stroke-width="0.06">4</text>
<text letter-spacing="0.55" transform="translate(158.30 723.50) scale(0.635 1)" font-size="11.5" fill="#1e1e1e" text-anchor="middle" stroke="#1e1e1e" stroke-width="0.42">Time in years</text>
<text transform="translate(23.20 627.30) rotate(-90)" font-size="11.3" fill="#1e1e1e" stroke="#1e1e1e" stroke-width="0.4" letter-spacing="0.6" text-anchor="middle" textLength="89" lengthAdjust="spacingAndGlyphs">Progression free survival</text>
<text transform="translate(35.60 738.80) scale(0.95 1)" font-size="9.85" fill="#333" stroke="#333" stroke-width="0.12">at risk</text>
<text transform="translate(72.80 752.20) scale(0.95 1)" font-size="8.3" fill="#A81C40" text-anchor="middle" stroke="#A81C40" stroke-width="0.16">112</text>
<text transform="translate(72.80 764.70) scale(0.95 1)" font-size="8.3" fill="#E49C32" text-anchor="middle" stroke="#E49C32" stroke-width="0.16">51</text>
<text transform="translate(90.20 752.20) scale(0.95 1)" font-size="8.3" fill="#A81C40" text-anchor="middle" stroke="#A81C40" stroke-width="0.16">106</text>
<text transform="translate(90.20 764.70) scale(0.95 1)" font-size="8.3" fill="#E49C32" text-anchor="middle" stroke="#E49C32" stroke-width="0.16">46</text>
<text transform="translate(107.60 752.20) scale(0.95 1)" font-size="8.3" fill="#A81C40" text-anchor="middle" stroke="#A81C40" stroke-width="0.16">74</text>
<text transform="translate(107.60 764.70) scale(0.95 1)" font-size="8.3" fill="#E49C32" text-anchor="middle" stroke="#E49C32" stroke-width="0.16">38</text>
<text transform="translate(125.00 752.20) scale(0.95 1)" font-size="8.3" fill="#A81C40" text-anchor="middle" stroke="#A81C40" stroke-width="0.16">66</text>
<text transform="translate(125.00 764.70) scale(0.95 1)" font-size="8.3" fill="#E49C32" text-anchor="middle" stroke="#E49C32" stroke-width="0.16">37</text>
<text transform="translate(142.40 752.20) scale(0.95 1)" font-size="8.3" fill="#A81C40" text-anchor="middle" stroke="#A81C40" stroke-width="0.16">66</text>
<text transform="translate(142.40 764.70) scale(0.95 1)" font-size="8.3" fill="#E49C32" text-anchor="middle" stroke="#E49C32" stroke-width="0.16">36</text>
<text transform="translate(159.80 752.20) scale(0.95 1)" font-size="8.3" fill="#A81C40" text-anchor="middle" stroke="#A81C40" stroke-width="0.16">65</text>
<text transform="translate(159.80 764.70) scale(0.95 1)" font-size="8.3" fill="#E49C32" text-anchor="middle" stroke="#E49C32" stroke-width="0.16">34</text>
<text transform="translate(177.20 752.20) scale(0.95 1)" font-size="8.3" fill="#A81C40" text-anchor="middle" stroke="#A81C40" stroke-width="0.16">49</text>
<text transform="translate(177.20 764.70) scale(0.95 1)" font-size="8.3" fill="#E49C32" text-anchor="middle" stroke="#E49C32" stroke-width="0.16">27</text>
<text transform="translate(194.60 752.20) scale(0.95 1)" font-size="8.3" fill="#A81C40" text-anchor="middle" stroke="#A81C40" stroke-width="0.16">47</text>
<text transform="translate(194.60 764.70) scale(0.95 1)" font-size="8.3" fill="#E49C32" text-anchor="middle" stroke="#E49C32" stroke-width="0.16">24</text>
<text transform="translate(212.00 752.20) scale(0.95 1)" font-size="8.3" fill="#A81C40" text-anchor="middle" stroke="#A81C40" stroke-width="0.16">45</text>
<text transform="translate(212.00 764.70) scale(0.95 1)" font-size="8.3" fill="#E49C32" text-anchor="middle" stroke="#E49C32" stroke-width="0.16">24</text>
<text transform="translate(229.40 752.20) scale(0.95 1)" font-size="8.3" fill="#A81C40" text-anchor="middle" stroke="#A81C40" stroke-width="0.16">41</text>
<text transform="translate(229.40 764.70) scale(0.95 1)" font-size="8.3" fill="#E49C32" text-anchor="middle" stroke="#E49C32" stroke-width="0.16">23</text>
<text transform="translate(246.80 752.20) scale(0.95 1)" font-size="8.3" fill="#A81C40" text-anchor="middle" stroke="#A81C40" stroke-width="0.16">37</text>
<text transform="translate(246.80 764.70) scale(0.95 1)" font-size="8.3" fill="#E49C32" text-anchor="middle" stroke="#E49C32" stroke-width="0.16">23</text>
<path d="M70.90 568.50 L73.00 569.50 L85.00 569.50 L86.00 572.00 L88.00 573.00 L90.00 575.00 L93.00 575.00 L94.00 577.00 L99.00 577.00 L100.00 579.50 L116.00 579.50 L117.00 582.50 L127.00 582.50 L128.00 586.00 L148.50 586.00 L149.00 589.00 L174.50 589.00 L175.00 592.50 L245.25 592.50" fill="none" stroke="#E0942E" stroke-width="1.55" stroke-linejoin="round"/>
<path d="M70.90 568.50 L87.00 568.50 L90.00 570.00 L92.00 572.00 L94.00 576.00 L95.00 579.00 L99.00 581.00 L102.00 583.00 L104.00 585.50 L107.00 587.50 L109.00 588.50 L115.00 588.50 L118.00 590.00 L122.00 592.00 L124.00 592.70 L149.00 592.70 L150.00 593.50 L158.50 593.50 L159.00 596.50 L193.50 596.50 L195.00 598.00 L227.00 598.00 L228.00 600.00 L241.00 600.00 L242.00 602.00 L245.25 602.00" fill="none" stroke="#9C173C" stroke-width="1.55" stroke-linejoin="round"/>
<text transform="translate(195.50 586.90) scale(0.95 1)" font-size="10.4" fill="#E49C32" stroke="#E49C32" stroke-width="0.25">THRLBCL</text>
<text transform="translate(195.50 613.75) scale(0.95 1)" font-size="10.4" fill="#A81C40" stroke="#A81C40" stroke-width="0.25">DLBCL</text>
<text transform="translate(173.80 676.80) scale(0.95 1)" font-size="10.1" fill="#1e1e1e" stroke="#1e1e1e" stroke-width="0.2"><tspan font-style="italic">P-value</tspan> = .63</text>
<text transform="translate(272.80 531.50) scale(0.95 1)" font-size="15.0" fill="#111" font-weight="bold" stroke="#111" stroke-width="0.35">F</text>
<text x="323.75" y="532.50" font-size="12.2" fill="#1e1e1e" textLength="187.5" lengthAdjust="spacingAndGlyphs"><tspan fill="#1e1e1e" stroke="#1e1e1e" stroke-width="0.2">autoHCT &gt;12 months after diagnosis</tspan></text>
<text x="335.00" y="553.00" font-size="12.2" fill="#1e1e1e" textLength="164.5" lengthAdjust="spacingAndGlyphs"><tspan fill="#1e1e1e" stroke="#1e1e1e" stroke-width="0.2">PFS </tspan><tspan fill="#E49C32" stroke="#E49C32" stroke-width="0.2">THRLBCL</tspan><tspan fill="#1e1e1e" stroke="#1e1e1e" stroke-width="0.2"> vs other </tspan><tspan fill="#A81C40" stroke="#A81C40" stroke-width="0.2">DLBCL</tspan></text>
<path d="M323.5 563.25 V691.0 H511.8" fill="none" stroke="#111111" stroke-width="1.4"/>
<path d="M319.5 568.15 H323.5" stroke="#111111" stroke-width="1.1"/>
<text transform="translate(315.30 571.65) scale(0.95 1)" font-size="10.2" fill="#2e2e2e" text-anchor="end" stroke="#2e2e2e" stroke-width="0.06">100%</text>
<path d="M319.5 597.74 H323.5" stroke="#111111" stroke-width="1.1"/>
<text transform="translate(315.30 601.24) scale(0.95 1)" font-size="10.2" fill="#2e2e2e" text-anchor="end" stroke="#2e2e2e" stroke-width="0.06">75%</text>
<path d="M319.5 627.33 H323.5" stroke="#111111" stroke-width="1.1"/>
<text transform="translate(315.30 630.83) scale(0.95 1)" font-size="10.2" fill="#2e2e2e" text-anchor="end" stroke="#2e2e2e" stroke-width="0.06">50%</text>
<path d="M319.5 656.91 H323.5" stroke="#111111" stroke-width="1.1"/>
<text transform="translate(315.30 660.41) scale(0.95 1)" font-size="10.2" fill="#2e2e2e" text-anchor="end" stroke="#2e2e2e" stroke-width="0.06">25%</text>
<path d="M319.5 686.50 H323.5" stroke="#111111" stroke-width="1.1"/>
<text transform="translate(315.30 690.00) scale(0.95 1)" font-size="10.2" fill="#2e2e2e" text-anchor="end" stroke="#2e2e2e" stroke-width="0.06">0%</text>
<path d="M330.10 691.0 V694.75" stroke="#111111" stroke-width="1.1"/>
<text transform="translate(330.10 707.50) scale(0.93 1)" font-size="10.0" fill="#222" text-anchor="middle" stroke="#222" stroke-width="0.06">0</text>
<path d="M373.85 691.0 V694.75" stroke="#111111" stroke-width="1.1"/>
<text transform="translate(373.85 707.50) scale(0.93 1)" font-size="10.0" fill="#222" text-anchor="middle" stroke="#222" stroke-width="0.06">1</text>
<path d="M417.60 691.0 V694.75" stroke="#111111" stroke-width="1.1"/>
<text transform="translate(417.60 707.50) scale(0.93 1)" font-size="10.0" fill="#222" text-anchor="middle" stroke="#222" stroke-width="0.06">2</text>
<path d="M461.35 691.0 V694.75" stroke="#111111" stroke-width="1.1"/>
<text transform="translate(461.35 707.50) scale(0.93 1)" font-size="10.0" fill="#222" text-anchor="middle" stroke="#222" stroke-width="0.06">3</text>
<path d="M505.10 691.0 V694.75" stroke="#111111" stroke-width="1.1"/>
<text transform="translate(505.10 707.50) scale(0.93 1)" font-size="10.0" fill="#222" text-anchor="middle" stroke="#222" stroke-width="0.06">4</text>
<text letter-spacing="0.55" transform="translate(417.80 723.50) scale(0.635 1)" font-size="11.5" fill="#1e1e1e" text-anchor="middle" stroke="#1e1e1e" stroke-width="0.42">Time in years</text>
<text transform="translate(282.70 627.30) rotate(-90)" font-size="11.3" fill="#1e1e1e" stroke="#1e1e1e" stroke-width="0.4" letter-spacing="0.6" text-anchor="middle" textLength="89" lengthAdjust="spacingAndGlyphs">Progression free survival</text>
<text transform="translate(293.80 738.80) scale(0.95 1)" font-size="9.85" fill="#333" stroke="#333" stroke-width="0.12">at risk</text>
<text transform="translate(332.30 752.20) scale(0.95 1)" font-size="8.3" fill="#A81C40" text-anchor="middle" stroke="#A81C40" stroke-width="0.16">180</text>
<text transform="translate(332.30 764.70) scale(0.95 1)" font-size="8.3" fill="#E49C32" text-anchor="middle" stroke="#E49C32" stroke-width="0.16">92</text>
<text transform="translate(349.70 752.20) scale(0.95 1)" font-size="8.3" fill="#A81C40" text-anchor="middle" stroke="#A81C40" stroke-width="0.16">160</text>
<text transform="translate(349.70 764.70) scale(0.95 1)" font-size="8.3" fill="#E49C32" text-anchor="middle" stroke="#E49C32" stroke-width="0.16">87</text>
<text transform="translate(367.10 752.20) scale(0.95 1)" font-size="8.3" fill="#A81C40" text-anchor="middle" stroke="#A81C40" stroke-width="0.16">119</text>
<text transform="translate(367.10 764.70) scale(0.95 1)" font-size="8.3" fill="#E49C32" text-anchor="middle" stroke="#E49C32" stroke-width="0.16">67</text>
<text transform="translate(384.50 752.20) scale(0.95 1)" font-size="8.3" fill="#A81C40" text-anchor="middle" stroke="#A81C40" stroke-width="0.16">110</text>
<text transform="translate(384.50 764.70) scale(0.95 1)" font-size="8.3" fill="#E49C32" text-anchor="middle" stroke="#E49C32" stroke-width="0.16">63</text>
<text transform="translate(401.90 752.20) scale(0.95 1)" font-size="8.3" fill="#A81C40" text-anchor="middle" stroke="#A81C40" stroke-width="0.16">104</text>
<text transform="translate(401.90 764.70) scale(0.95 1)" font-size="8.3" fill="#E49C32" text-anchor="middle" stroke="#E49C32" stroke-width="0.16">61</text>
<text transform="translate(419.30 752.20) scale(0.95 1)" font-size="8.3" fill="#A81C40" text-anchor="middle" stroke="#A81C40" stroke-width="0.16">95</text>
<text transform="translate(419.30 764.70) scale(0.95 1)" font-size="8.3" fill="#E49C32" text-anchor="middle" stroke="#E49C32" stroke-width="0.16">54</text>
<text transform="translate(436.70 752.20) scale(0.95 1)" font-size="8.3" fill="#A81C40" text-anchor="middle" stroke="#A81C40" stroke-width="0.16">85</text>
<text transform="translate(436.70 764.70) scale(0.95 1)" font-size="8.3" fill="#E49C32" text-anchor="middle" stroke="#E49C32" stroke-width="0.16">47</text>
<text transform="translate(454.10 752.20) scale(0.95 1)" font-size="8.3" fill="#A81C40" text-anchor="middle" stroke="#A81C40" stroke-width="0.16">76</text>
<text transform="translate(454.10 764.70) scale(0.95 1)" font-size="8.3" fill="#E49C32" text-anchor="middle" stroke="#E49C32" stroke-width="0.16">46</text>
<text transform="translate(471.50 752.20) scale(0.95 1)" font-size="8.3" fill="#A81C40" text-anchor="middle" stroke="#A81C40" stroke-width="0.16">71</text>
<text transform="translate(471.50 764.70) scale(0.95 1)" font-size="8.3" fill="#E49C32" text-anchor="middle" stroke="#E49C32" stroke-width="0.16">44</text>
<text transform="translate(488.90 752.20) scale(0.95 1)" font-size="8.3" fill="#A81C40" text-anchor="middle" stroke="#A81C40" stroke-width="0.16">63</text>
<text transform="translate(488.90 764.70) scale(0.95 1)" font-size="8.3" fill="#E49C32" text-anchor="middle" stroke="#E49C32" stroke-width="0.16">44</text>
<text transform="translate(506.30 752.20) scale(0.95 1)" font-size="8.3" fill="#A81C40" text-anchor="middle" stroke="#A81C40" stroke-width="0.16">55</text>
<text transform="translate(506.30 764.70) scale(0.95 1)" font-size="8.3" fill="#E49C32" text-anchor="middle" stroke="#E49C32" stroke-width="0.16">42</text>
<path d="M330.25 568.10 L343.00 568.10 L344.00 570.00 L345.00 571.00 L351.00 571.00 L352.00 572.00 L355.00 575.00 L357.00 576.50 L371.00 576.50 L372.00 578.00 L398.40 578.50 L400.25 582.50 L407.10 583.10 L408.40 586.25 L412.75 586.90 L414.00 590.00 L418.40 590.60 L419.60 592.25 L425.90 592.75 L427.10 594.00 L504.60 594.00" fill="none" stroke="#E0942E" stroke-width="1.55" stroke-linejoin="round"/>
<path d="M330.25 568.10 L336.00 569.00 L340.00 571.00 L343.00 572.50 L346.00 575.00 L348.00 578.00 L352.00 579.00 L354.00 581.00 L356.00 584.00 L358.00 587.00 L362.00 590.00 L366.00 591.50 L370.00 593.00 L374.00 594.50 L378.00 595.00 L381.00 595.50 L383.00 597.50 L386.00 599.00 L389.00 600.00 L394.60 600.00 L396.50 601.25 L401.50 602.50 L405.25 603.10 L412.10 603.50 L416.50 605.00 L418.40 605.60 L429.00 605.60 L430.90 606.50 L436.50 606.90 L440.25 608.10 L447.75 608.50 L450.25 609.40 L451.50 610.60 L459.60 611.00 L465.90 611.90 L472.75 612.50 L474.00 615.00 L492.75 615.60 L494.00 616.90 L502.75 617.25 L504.60 617.75" fill="none" stroke="#9C173C" stroke-width="1.55" stroke-linejoin="round"/>
<text transform="translate(456.75 586.90) scale(0.95 1)" font-size="10.4" fill="#E49C32" stroke="#E49C32" stroke-width="0.25">THRLBCL</text>
<text transform="translate(469.00 631.90) scale(0.95 1)" font-size="10.4" fill="#A81C40" stroke="#A81C40" stroke-width="0.25">DLBCL</text>
<text transform="translate(430.60 676.90) scale(0.95 1)" font-size="10.1" fill="#1e1e1e" stroke="#1e1e1e" stroke-width="0.2"><tspan font-style="italic">P-value</tspan> = .015</text>
<text x="8.65" y="782.20" font-size="9.9" fill="#141414" stroke="#141414" stroke-width="0.2" textLength="479.75" lengthAdjust="spacingAndGlyphs">Abbreviations: THRLBCL: T-cell/histiocyte-rich large cell B-cell lymphoma, DLBCL: Diffuse large B-cell lymphoma,</text>
<text x="8.65" y="793.95" font-size="9.9" fill="#141414" stroke="#141414" stroke-width="0.2" textLength="427.2" lengthAdjust="spacingAndGlyphs">HCT: Hematopoietic Stem cell Transplantation, PFS: Progression free survival, RI: Relapse incidence,</text>
<text x="8.65" y="805.70" font-size="9.9" fill="#141414" stroke="#141414" stroke-width="0.2" textLength="211.5" lengthAdjust="spacingAndGlyphs">OS: Overall survival, NRM: Non-Relapse mortality,</text>
</svg>
</body></html>
